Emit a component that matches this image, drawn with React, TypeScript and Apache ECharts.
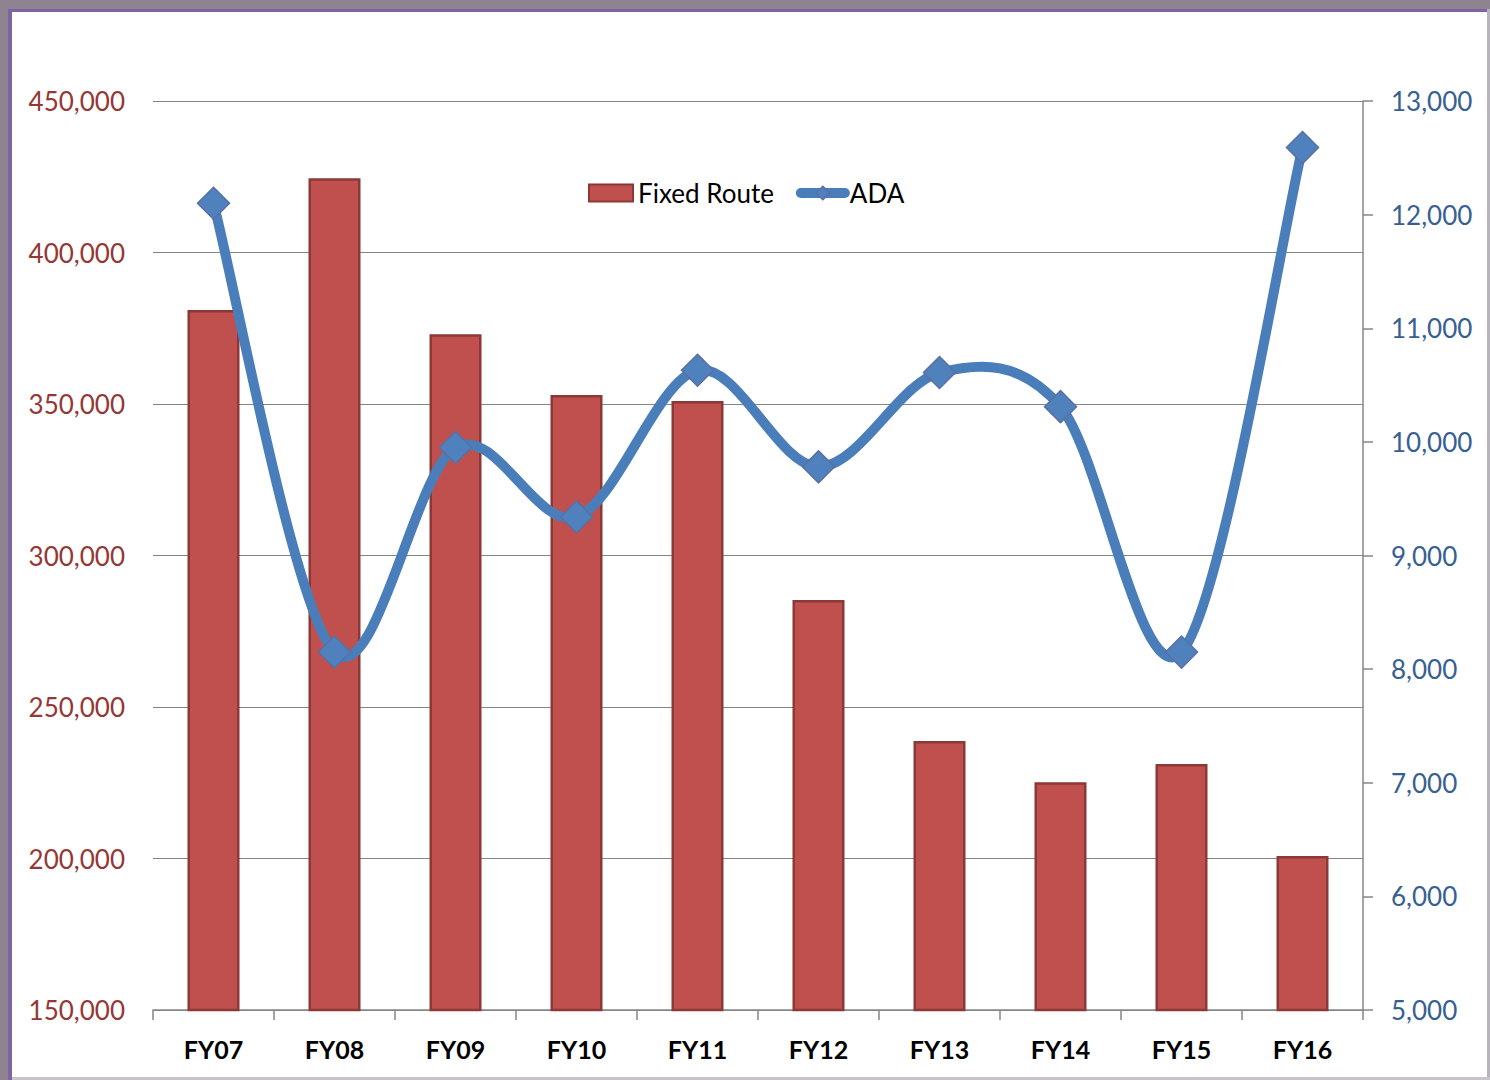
import React, { useEffect, useRef } from "react";
import * as echarts from "echarts";

const categories = ["FY07", "FY08", "FY09", "FY10", "FY11", "FY12", "FY13", "FY14", "FY15", "FY16"];
const fixedRoute = [381000, 424500, 373000, 353000, 351000, 285300, 238800, 225200, 231200, 200800];
const ada = [12100, 8150, 9950, 9340, 10630, 9780, 10610, 10310, 8150, 12590];

export default function App() {
  const ref = useRef<HTMLDivElement>(null);
  useEffect(() => {
    const chart = echarts.init(ref.current!, null, { renderer: "svg" });
    const font = "Lato, 'Open Sans', sans-serif";
    const lineColor = "#4a7ebb";
    chart.setOption({
      animation: false,
      backgroundColor: "#ffffff",
      grid: { left: 153, right: 127, top: 101, bottom: 70, containLabel: false },
      legend: {
        top: 175,
        left: 583,
        itemWidth: 44,
        itemHeight: 17,
        itemGap: 22,
        textStyle: { fontFamily: font, fontSize: 26, color: "#000" },
        data: [
          { name: "Fixed Route", icon: "rect" },
          {
            name: "ADA",
            lineStyle: { width: 10, color: lineColor, opacity: 1, cap: "round" },
            itemStyle: { color: "#4f81bd", borderColor: "#5b6fa6", borderWidth: 1.5 },
          },
        ],
      },
      xAxis: {
        type: "category",
        data: categories,
        axisLine: { show: true, lineStyle: { color: "#868686", width: 1.5 } },
        axisTick: { show: true, length: 10, alignWithLabel: false, lineStyle: { color: "#868686", width: 1.5 } },
        axisLabel: { margin: 26, fontFamily: font, fontSize: 25, fontWeight: "bold", color: "#000" },
      },
      yAxis: [
        {
          type: "value",
          min: 150000,
          max: 450000,
          interval: 50000,
          axisLine: { show: false },
          axisTick: { show: false },
          splitLine: { lineStyle: { color: "#868686", width: 1 } },
          axisLabel: {
            margin: 28,
            fontFamily: font,
            fontSize: 26,
            color: "#953735",
            formatter: (v: number) => v.toLocaleString("en-US"),
          },
        },
        {
          type: "value",
          min: 5000,
          max: 13000,
          interval: 1000,
          position: "right",
          axisLine: { show: true, lineStyle: { color: "#868686", width: 1.5 } },
          axisTick: { show: true, inside: false, length: 10, lineStyle: { color: "#868686", width: 1.5 } },
          splitLine: { show: false },
          axisLabel: {
            margin: 28,
            fontFamily: font,
            fontSize: 26,
            color: "#376092",
            formatter: (v: number) => v.toLocaleString("en-US"),
          },
        },
      ],
      series: [
        {
          name: "Fixed Route",
          type: "bar",
          data: fixedRoute,
          yAxisIndex: 0,
          barWidth: 52,
          itemStyle: { color: "#c0504d", borderColor: "#8c3836", borderWidth: 2.5 },
        },
        {
          name: "ADA curve",
          type: "custom",
          yAxisIndex: 1,
          clip: false,
          z: 4,
          data: ada.map((v, i) => [i, v]),
          renderItem: (params: any, api: any) => {
            if (params.dataIndex !== 0) return null;
            const pts = ada.map((v, i) => api.coord([i, v]));
            const n = pts.length;
            const children: any[] = [];
            for (let i = 0; i < n - 1; i++) {
              const p0 = pts[Math.max(i - 1, 0)];
              const p1 = pts[i];
              const p2 = pts[i + 1];
              const p3 = pts[Math.min(i + 2, n - 1)];
              children.push({
                type: "bezierCurve",
                shape: {
                  x1: p1[0],
                  y1: p1[1],
                  cpx1: p1[0] + (p2[0] - p0[0]) / 6,
                  cpy1: p1[1] + (p2[1] - p0[1]) / 6,
                  cpx2: p2[0] - (p3[0] - p1[0]) / 6,
                  cpy2: p2[1] - (p3[1] - p1[1]) / 6,
                  x2: p2[0],
                  y2: p2[1],
                },
                style: { stroke: lineColor, lineWidth: 10, fill: "none", lineCap: "round" },
              });
            }
            return { type: "group", children };
          },
        },
        {
          name: "ADA",
          type: "line",
          data: ada,
          yAxisIndex: 1,
          symbol: "diamond",
          symbolSize: 32,
          lineStyle: { color: lineColor, width: 0, opacity: 0 },
          itemStyle: { color: "#4f81bd", borderColor: "#5b6fa6", borderWidth: 1.5 },
          z: 5,
        },
      ],
      graphic: [
        { type: "rect", shape: { x: 0, y: 0, width: 1490, height: 9 }, style: { fill: "#8e8491" }, silent: true },
        { type: "rect", shape: { x: 0, y: 0, width: 8, height: 1080 }, style: { fill: "#8e8491" }, silent: true },
        { type: "rect", shape: { x: 8, y: 9, width: 1482, height: 3 }, style: { fill: "#8064a2" }, silent: true },
        { type: "rect", shape: { x: 8, y: 9, width: 4, height: 1071 }, style: { fill: "#8064a2" }, silent: true },
        { type: "rect", shape: { x: 1487, y: 9, width: 3, height: 1071 }, style: { fill: "#b8b4bb" }, silent: true },
        { type: "rect", shape: { x: 12, y: 1077, width: 1478, height: 3 }, style: { fill: "#c8c4cb" }, silent: true },
      ],
    });
    return () => chart.dispose();
  }, []);
  return <div ref={ref} style={{ width: 1490, height: 1080, position: "absolute", left: 0, top: 0 }} />;
}
